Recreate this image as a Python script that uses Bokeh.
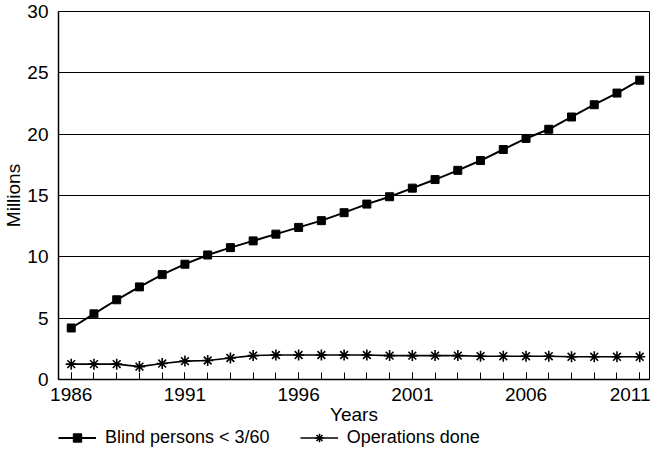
from bokeh.plotting import figure
from bokeh.layouts import column
from bokeh.models import Range1d, FixedTicker, Legend, LegendItem
from bokeh.embed import file_html
from bokeh.resources import INLINE

years = list(range(1986, 2012))
blind = [4.2, 5.35, 6.5, 7.55, 8.55, 9.4, 10.15, 10.75, 11.3, 11.85, 12.4, 12.95,
         13.6, 14.3, 14.9, 15.6, 16.3, 17.05, 17.85, 18.75, 19.65, 20.4, 21.4,
         22.4, 23.35, 24.4]
ops = [1.25, 1.25, 1.25, 1.05, 1.3, 1.5, 1.55, 1.75, 1.95, 2.0, 2.0, 2.0, 2.0,
       2.0, 1.95, 1.95, 1.95, 1.95, 1.9, 1.9, 1.9, 1.9, 1.85, 1.85, 1.85, 1.85]
x_ticks = [1986, 1991, 1996, 2001, 2006, 2011]
y_ticks = [0, 5, 10, 15, 20, 25, 30]
labels = ["Blind persons < 3/60", "Operations done"]

FONT = "Liberation Sans"

p = figure(width=650, height=427, output_backend="svg", toolbar_location=None,
           x_range=Range1d(1985.44, 2011.43), y_range=Range1d(0, 30),
           min_border_left=50, min_border_right=1, min_border_top=11,
           min_border_bottom=48)
p.background_fill_color = "white"
p.border_fill_color = "white"
p.outline_line_color = "black"
p.outline_line_width = 1

xa = p.xaxis[0]
xa.ticker = FixedTicker(ticks=x_ticks, minor_ticks=years)
xa.major_tick_in = 7
xa.major_tick_out = 0
xa.minor_tick_in = 7
xa.minor_tick_out = 0
xa.major_tick_line_color = "black"
xa.minor_tick_line_color = "black"
xa.axis_line_color = "black"
xa.axis_line_width = 1.5
xa.major_label_text_font = FONT
xa.major_label_text_font_size = "19px"
xa.major_label_text_color = "black"
xa.major_label_standoff = 8
xa.axis_label = "Years"
xa.axis_label_text_font = FONT
xa.axis_label_text_font_size = "19px"
xa.axis_label_text_font_style = "normal"
xa.axis_label_text_color = "black"
xa.axis_label_standoff = 0

ya = p.yaxis[0]
ya.ticker = FixedTicker(ticks=y_ticks)
ya.major_tick_in = 0
ya.major_tick_out = 0
ya.minor_tick_in = 0
ya.minor_tick_out = 0
ya.axis_line_color = "black"
ya.axis_line_width = 1.5
ya.major_label_text_font = FONT
ya.major_label_text_font_size = "19px"
ya.major_label_text_color = "black"
ya.major_label_standoff = 10
ya.axis_label = "Millions"
ya.axis_label_text_font = FONT
ya.axis_label_text_font_size = "19px"
ya.axis_label_text_font_style = "normal"
ya.axis_label_text_color = "black"
ya.axis_label_standoff = 0

p.xgrid.grid_line_color = None
p.ygrid.ticker = FixedTicker(ticks=y_ticks)
p.ygrid.grid_line_color = "black"
p.ygrid.grid_line_width = 1

p.line(years, blind, line_color="black", line_width=2)
p.scatter(years, blind, marker="square", size=8, fill_color="black",
          line_color="black")
p.line(years, ops, line_color="black", line_width=1.6)
p.scatter(years, ops, marker="asterisk", size=11, line_color="black",
          line_width=1.6)

# legend strip below the chart
q = figure(width=650, height=21, output_backend="svg", toolbar_location=None,
           x_range=Range1d(0, 1), y_range=Range1d(0, 1), min_border=0,
           x_axis_location=None, y_axis_location=None)
q.outline_line_color = None
q.grid.grid_line_color = None
ql1 = q.line([-5, -4], [0.5, 0.5], line_color="black", line_width=2)
qs1 = q.scatter([-5], [0.5], marker="square", size=8, fill_color="black",
                line_color="black")
ql2 = q.line([-5, -4], [0.5, 0.5], line_color="black", line_width=1.6)
qs2 = q.scatter([-5], [0.5], marker="asterisk", size=11, line_color="black",
                line_width=1.6)
legend = Legend(items=[LegendItem(label=labels[0], renderers=[ql1, qs1]),
                       LegendItem(label=labels[1], renderers=[ql2, qs2])],
                orientation="horizontal", location=(0, 0),
                border_line_color=None, background_fill_alpha=0,
                padding=0, margin=0, spacing=30, label_standoff=9,
                glyph_width=38, glyph_height=21, label_height=21,
                label_text_font=FONT, label_text_font_size="18px",
                label_text_color="black")
q.add_layout(legend, "center")

layout = column(p, q, spacing=0)
open("out.html", "w").write(file_html(layout, INLINE))
